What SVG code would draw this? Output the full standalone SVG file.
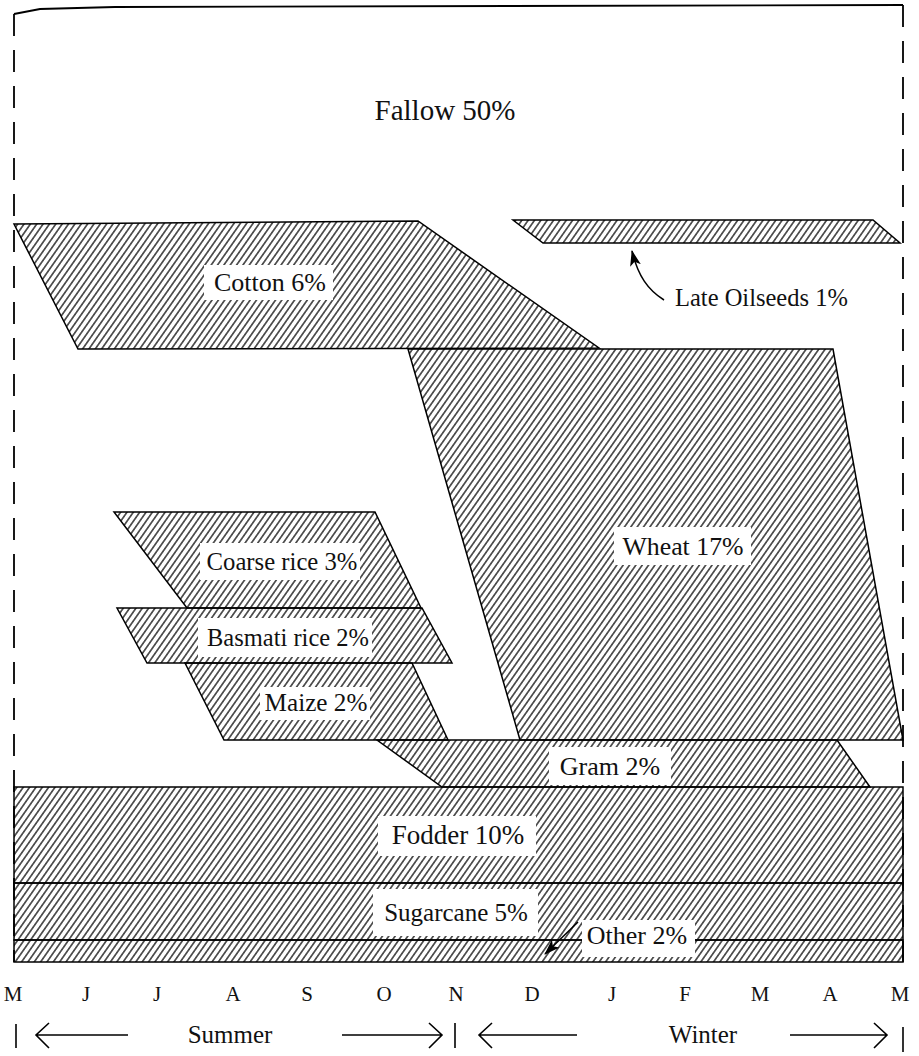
<svg xmlns="http://www.w3.org/2000/svg" width="919" height="1056" viewBox="0 0 919 1056">
<style>
.crop{fill:url(#hatch);stroke:#000;stroke-width:1.5;stroke-linejoin:miter}
.box{fill:#fff;stroke:none}
.lbl{font-family:"Liberation Serif","DejaVu Serif",serif;font-size:25px;fill:#111;text-anchor:middle}
.frame{fill:none;stroke:#000;stroke-width:1.8;stroke-dasharray:22 14}
.ln{fill:none;stroke:#000;stroke-width:1.5}
.axis{fill:none;stroke:#000;stroke-width:1.6}
</style>
<defs>
<pattern id="hatch" width="5.2" height="10" patternUnits="userSpaceOnUse" patternTransform="rotate(35)">
<line x1="2.6" y1="0" x2="2.6" y2="10" stroke="#000" stroke-width="1.2"/>
</pattern>
<marker id="head" viewBox="0 0 16 11" refX="15" refY="5.5" markerWidth="16" markerHeight="11" markerUnits="userSpaceOnUse" orient="auto">
<path d="M0,0 L16,5.5 L0,11 L4,5.5 z" fill="#000"/>
</marker>
</defs>
<rect width="919" height="1056" fill="#fff"/>

<g id="fallow">
<text class="lbl" x="445" y="120" style="font-size:29px">Fallow 50%</text>
</g>

<g id="cotton">
<polygon class="crop" points="14,224 418,221 599,348 78,349"/>
<rect class="box" x="204" y="265" width="129" height="35"/>
<text class="lbl" x="270" y="291" style="font-size:26px">Cotton 6%</text>
</g>

<g id="late-oilseeds">
<polygon class="crop" points="513,220 873,220 900,243 543,243"/>
<text class="lbl" x="675" y="306" style="text-anchor:start;font-size:24.5px">Late Oilseeds 1%</text>
</g>

<g id="wheat">
<polygon class="crop" points="408,349 833,349 903,740 520,740"/>
<rect class="box" x="614" y="527" width="137" height="38"/>
<text class="lbl" x="683" y="555" style="font-size:25.8px">Wheat 17%</text>
</g>

<g id="coarse-rice">
<polygon class="crop" points="114,512 375,512 421,608 187,608"/>
<rect class="box" x="200" y="543" width="160" height="37"/>
<text class="lbl" x="282" y="570" style="font-size:24.7px">Coarse rice 3%</text>
</g>

<g id="basmati-rice">
<polygon class="crop" points="117,608 422,608 452,663 147,663"/>
<rect class="box" x="198" y="618" width="174" height="39"/>
<text class="lbl" x="288" y="646" style="font-size:24.5px">Basmati rice 2%</text>
</g>

<g id="maize">
<polygon class="crop" points="185,663 412,663 448,740 224,740"/>
<rect class="box" x="260" y="687" width="110" height="33"/>
<text class="lbl" x="316" y="711" style="font-size:25.2px">Maize 2%</text>
</g>

<g id="gram">
<polygon class="crop" points="377,740 837,740 870,787 442,787"/>
<rect class="box" x="549" y="747" width="122" height="38"/>
<text class="lbl" x="610" y="775" style="font-size:26px">Gram 2%</text>
</g>

<g id="fodder">
<rect class="crop" x="14" y="787" width="889" height="96"/>
<rect class="box" x="378" y="816" width="158" height="40"/>
<text class="lbl" x="458" y="844" style="font-size:27px">Fodder 10%</text>
</g>

<g id="sugarcane">
<rect class="crop" x="14" y="883" width="889" height="57"/>
<rect class="box" x="373" y="889" width="165" height="47"/>
<text class="lbl" x="456" y="921" style="font-size:25px">Sugarcane 5%</text>
</g>

<g id="other">
<rect class="crop" x="14" y="940" width="889" height="22"/>
<rect class="box" x="582" y="920" width="113" height="37"/>
<text class="lbl" x="637" y="944" style="font-size:26px">Other 2%</text>
</g>

<g id="frame">
<path class="ln" d="M14,14 L40,9 L115,7 L903,5" style="stroke-width:1.8"/>
<line class="frame" x1="14" y1="14" x2="14" y2="962"/>
<line class="frame" x1="903" y1="5" x2="903" y2="962"/>
</g>

<g id="connectors">
<path class="ln" d="M664,300 C648,290 638,276 632,251" marker-end="url(#head)"/>
<line class="ln" x1="578" y1="922" x2="545" y2="954" marker-end="url(#head)"/>
</g>

<g id="axis">
<g class="lbl" style="font-size:21px">
<text x="13" y="1001">M</text>
<text x="86" y="1001">J</text>
<text x="157" y="1001">J</text>
<text x="233" y="1001">A</text>
<text x="307" y="1001">S</text>
<text x="384" y="1001">O</text>
<text x="456" y="1001">N</text>
<text x="532" y="1001">D</text>
<text x="612" y="1001">J</text>
<text x="685" y="1001">F</text>
<text x="760" y="1001">M</text>
<text x="830" y="1001">A</text>
<text x="900" y="1001">M</text>
</g>
<line class="axis" x1="16" y1="1024" x2="16" y2="1048"/>
<path class="axis" d="M128,1035 L36,1035 M49,1023 L36,1035 L49,1048"/>
<text class="lbl" x="230" y="1043">Summer</text>
<path class="axis" d="M342,1035 L442,1035 M429,1023 L442,1035 L429,1048"/>
<line class="axis" x1="455" y1="1023" x2="455" y2="1048"/>
<path class="axis" d="M577,1035 L479,1035 M492,1023 L479,1035 L492,1048"/>
<text class="lbl" x="703" y="1043">Winter</text>
<path class="axis" d="M790,1035 L887,1035 M874,1023 L887,1035 L874,1048"/>
<line class="axis" x1="903" y1="1027" x2="903" y2="1052"/>
</g>
</svg>
